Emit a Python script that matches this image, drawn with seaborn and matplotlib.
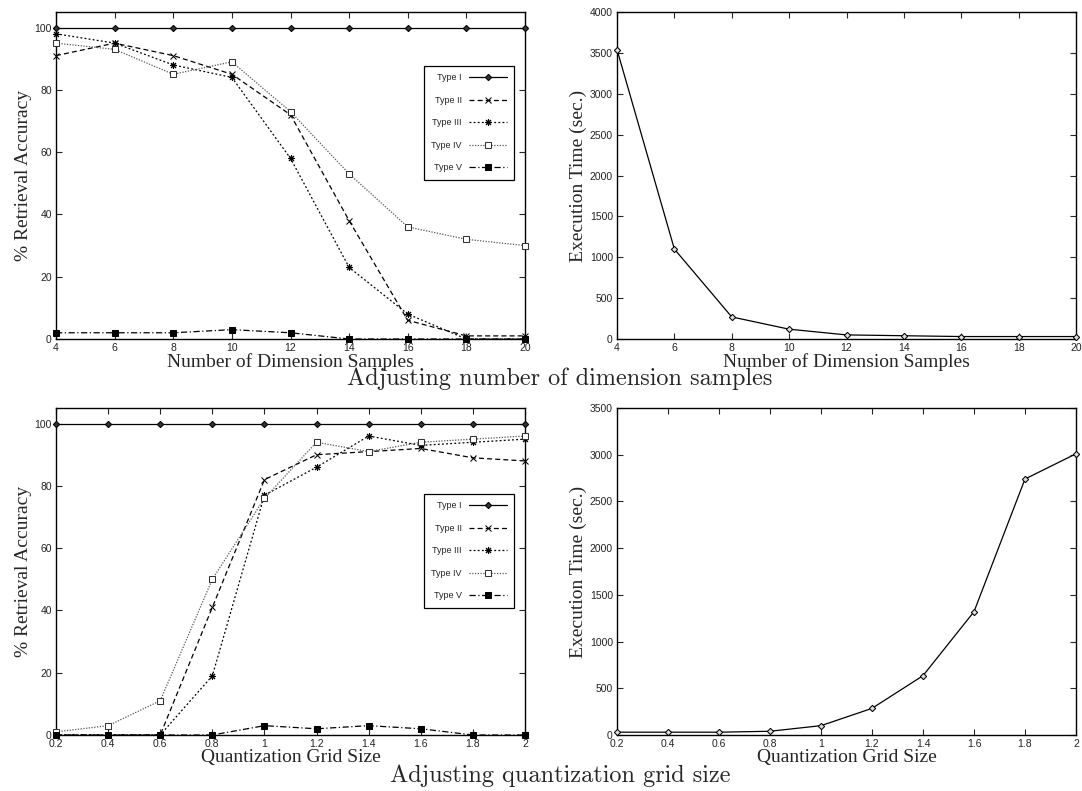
import numpy as np
import pandas as pd
import seaborn as sns
import matplotlib
matplotlib.use("Agg")
import matplotlib.pyplot as plt
from matplotlib.ticker import FuncFormatter

# ---- data ----
dim_samples = [4, 6, 8, 10, 12, 14, 16, 18, 20]
dim_type1 = [100, 100, 100, 100, 100, 100, 100, 100, 100]
dim_type2 = [91, 95, 91, 85, 72, 38, 6, 1, 1]
dim_type3 = [98, 95, 88, 84, 58, 23, 8, 0, 0]
dim_type4 = [95, 93, 85, 89, 73, 53, 36, 32, 30]
dim_type5 = [2, 2, 2, 3, 2, 0, 0, 0, 0]
dim_time = [3540, 1100, 270, 120, 50, 40, 30, 30, 30]

grid_size = [0.2, 0.4, 0.6, 0.8, 1.0, 1.2, 1.4, 1.6, 1.8, 2.0]
grid_type1 = [100, 100, 100, 100, 100, 100, 100, 100, 100, 100]
grid_type2 = [0, 0, 0, 41, 82, 90, 91, 92, 89, 88]
grid_type3 = [0, 0, 0, 19, 77, 86, 96, 93, 94, 95]
grid_type4 = [1, 3, 11, 50, 76, 94, 91, 94, 95, 96]
grid_type5 = [0, 0, 0, 0, 3, 2, 3, 2, 0, 0]
grid_time = [30, 30, 30, 40, 100, 285, 635, 1320, 2740, 3010]

type_names = ["Type I", "Type II", "Type III", "Type IV", "Type V"]

sns.set_style("ticks")
plt.rcParams["font.family"] = ["Liberation Sans", "DejaVu Sans"]

# line look for every type (gnuplot-like)
styles = {
    "Type I": dict(color="black", linestyle="-", marker="D", markersize=3.2, mfc="#333333", mec="black"),
    "Type II": dict(color="black", linestyle=(0, (4, 2.5)), marker="x", markersize=4.5, mec="black"),
    "Type III": dict(color="black", linestyle=(0, (1.5, 1.8)), marker=(8, 2, 0), markersize=5, mec="black"),
    "Type IV": dict(color="#555555", linestyle=(0, (1, 1.2)), marker="s", markersize=4.5, mfc="white", mec="#333333"),
    "Type V": dict(color="black", linestyle=(0, (5, 2, 1, 2)), marker="s", markersize=4, mfc="black", mec="black"),
}

W, H = 1082, 791
fig = plt.figure(figsize=(W / 100, H / 100), dpi=100)


def box(left, top, right, bottom):
    return [left / W, 1 - bottom / H, (right - left) / W, (bottom - top) / H]


serif = ["Liberation Serif", "DejaVu Serif"]
tick_fmt = FuncFormatter(lambda v, p: "%g" % v)


def style_axes(ax, xlabel, ylabel):
    ax.tick_params(direction="in", top=True, right=True, length=4, width=0.8,
                   labelsize=7.5, labelcolor="#222222", pad=3)
    for s in ax.spines.values():
        s.set_linewidth(1.0)
        s.set_color("black")
    ax.set_xlabel(xlabel, family=serif, fontsize=14, labelpad=0)
    ax.set_ylabel(ylabel, family=serif, fontsize=14, labelpad=2)
    ax.xaxis.set_major_formatter(tick_fmt)


def accuracy_panel(ax, x, series, xticks, xlabel, legend_top):
    for name, y in zip(type_names, series):
        df = pd.DataFrame({"x": x, "y": y})
        sns.lineplot(data=df, x="x", y="y", ax=ax, label=name, linewidth=0.9,
                     errorbar=None, clip_on=False, zorder=3, **styles[name])
    ax.set_xlim(xticks[0], xticks[-1])
    ax.set_ylim(0, 105)
    ax.set_xticks(xticks)
    ax.set_yticks([0, 20, 40, 60, 80, 100])
    style_axes(ax, xlabel, "% Retrieval Accuracy")
    leg = ax.legend(loc="upper right", bbox_to_anchor=(0.977, legend_top),
                    markerfirst=False, fancybox=False, framealpha=1,
                    edgecolor="black", fontsize=6.5, handlelength=4.2,
                    handletextpad=0.8, labelspacing=1.5, borderpad=0.8,
                    borderaxespad=0)
    leg.get_frame().set_linewidth(0.9)
    for t in leg.get_texts():
        t.set_color("#222222")


def time_panel(ax, x, y, xticks, ymax, xlabel):
    df = pd.DataFrame({"x": x, "y": y})
    sns.lineplot(data=df, x="x", y="y", ax=ax, color="black", linewidth=0.9,
                 marker="D", markersize=3.2, mfc="#dddddd", mec="black",
                 errorbar=None, clip_on=False, zorder=3)
    ax.set_xlim(xticks[0], xticks[-1])
    ax.set_ylim(0, ymax)
    ax.set_xticks(xticks)
    ax.set_yticks(np.arange(0, ymax + 1, 500))
    style_axes(ax, xlabel, "Execution Time (sec.)")


ax1 = fig.add_axes(box(56, 12, 525, 339))
ax2 = fig.add_axes(box(617, 12, 1076, 339))
ax3 = fig.add_axes(box(56, 408, 525, 735))
ax4 = fig.add_axes(box(617, 408, 1076, 735))

accuracy_panel(ax1, dim_samples,
               [dim_type1, dim_type2, dim_type3, dim_type4, dim_type5],
               dim_samples, "Number of Dimension Samples", 0.835)
time_panel(ax2, dim_samples, dim_time, dim_samples, 4000, "Number of Dimension Samples")
accuracy_panel(ax3, grid_size,
               [grid_type1, grid_type2, grid_type3, grid_type4, grid_type5],
               grid_size, "Quantization Grid Size", 0.737)
time_panel(ax4, grid_size, grid_time, grid_size, 3500, "Quantization Grid Size")

title_font = ["cmr10", "DejaVu Serif"]
fig.text(560 / W, 1 - 379 / H, "Adjusting number of dimension samples",
         ha="center", va="center", family=title_font, fontsize=17.5)
fig.text(560 / W, 1 - 776 / H, "Adjusting quantization grid size",
         ha="center", va="center", family=title_font, fontsize=17.5)

fig.savefig("out.png", dpi=100)
